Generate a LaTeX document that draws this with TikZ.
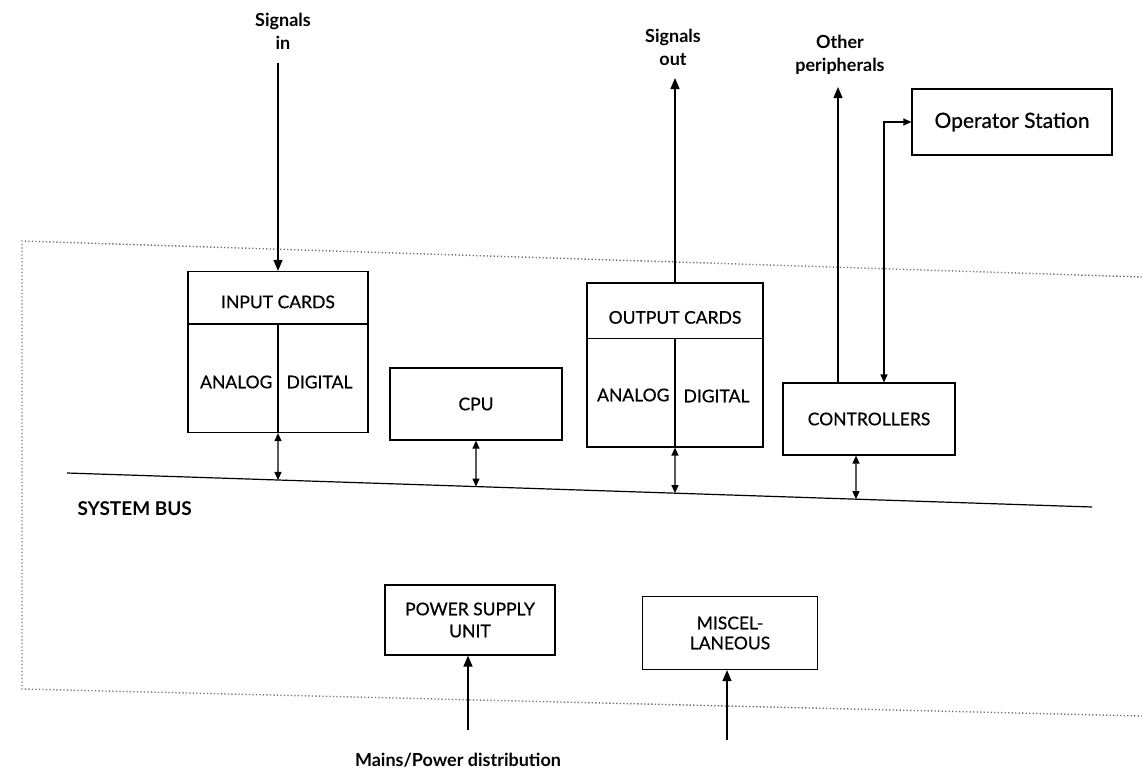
\documentclass[tikz,border=0pt]{standalone}
\usepackage{fontspec}
\setmainfont{Lato}
\newfontfamily\medfont[FakeBold=0.6]{Lato}
\usetikzlibrary{arrows.meta,calc}
\begin{document}
\begin{tikzpicture}[x=1pt,y=-1pt,
  line width=1.2pt,
  txt/.style={inner sep=0pt,font=\medfont\fontsize{17.5}{21}\selectfont},
  box/.style={draw,rectangle,inner sep=0pt,align=center,font=\medfont\fontsize{17.5}{22}\selectfont},
  lab/.style={inner sep=0pt,align=center,font=\bfseries\fontsize{18}{23}\selectfont},
  sig/.style={-{Triangle[length=11pt,width=9pt]}},
  dbl/.style={{Triangle[length=8pt,width=7pt]}-{Triangle[length=8pt,width=7pt]}},
  border/.style={black!55,line width=1.4pt,dash pattern=on 1.3pt off 2.2pt}
]
\useasboundingbox (0,0) rectangle (1142,771);

% dotted enclosure
\draw[border] (1142,277) -- (22,241) -- (22,689) -- (1142,716);

% system bus
\coordinate (bus1) at (67,473);
\coordinate (bus2) at (1092,507);
\draw (bus1) -- (bus2);
\node[inner sep=0pt,anchor=west,font=\bfseries\fontsize{19}{21}\selectfont] (buslab) at (77,509) {SYSTEM BUS};

% input cards
\node[box,minimum width=180pt,minimum height=161pt] (in) at (278,352) {};
\draw ([yshift=-53pt]in.north west) -- ([yshift=-53pt]in.north east);
\draw ([yshift=-53pt]in.north) -- (in.south);
\node[txt] (inT) at ($(in.north)+(0,31)$) {INPUT CARDS};
\node[txt,anchor=east] (inA) at ($(in.center)+(-5,30)$) {ANALOG};
\node[txt,anchor=west] (inD) at ($(in.center)+(8,30)$) {DIGITAL};

% output cards
\node[box,minimum width=176pt,minimum height=164pt] (out) at (675,365) {};
\draw ([yshift=-56pt]out.north west) -- ([yshift=-56pt]out.north east);
\draw ([yshift=-56pt]out.north) -- (out.south);
\node[txt] (outT) at ($(out.north)+(0,35)$) {OUTPUT CARDS};
\node[txt,anchor=east] (outA) at ($(out.center)+(-5,30)$) {ANALOG};
\node[txt,anchor=west] (outD) at ($(out.center)+(8,31)$) {DIGITAL};

% cpu
\node[box,minimum width=172pt,minimum height=72pt] (cpu) at (476,404) {CPU};
% controllers
\node[box,minimum width=172pt,minimum height=72pt] (ctl) at (869,419) {CONTROLLERS};
% operator station
\node[box,minimum width=200pt,minimum height=66pt,font=\medfont\fontsize{21}{23}\selectfont] (op) at (1012,122) {Operator Station};
% power supply
\node[box,minimum width=170pt,minimum height=70pt] (psu) at (470,620) {POWER SUPPLY\\UNIT};
% miscellaneous
\node[box,minimum width=175pt,minimum height=73pt,font=\medfont\fontsize{17.5}{20}\selectfont] (misc) at (730,633) {MISCEL-\\LANEOUS};

% bus connections
\coordinate (bIn) at (intersection of bus1--bus2 and in.south--in.north);
\coordinate (bCpu) at (intersection of bus1--bus2 and cpu.south--cpu.north);
\coordinate (bOut) at (intersection of bus1--bus2 and out.south--out.north);
\coordinate (ctlS) at ($(ctl.south)+(-13,0)$);
\coordinate (ctlN) at ($(ctl.north)+(-13,0)$);
\coordinate (bCtl) at (intersection of bus1--bus2 and ctlS--ctlN);
\draw[dbl] (in.south) -- (bIn);
\draw[dbl] (cpu.south) -- (bCpu);
\draw[dbl] (out.south) -- (bOut);
\draw[dbl] (ctlS) -- (bCtl);

% signals in
\node[lab] (sin) at (283,31) {Signals\\in};
\coordinate (sinS) at (278,63);
\draw[sig] (sinS) -- (in.north);

% signals out
\node[lab] (sout) at (673,47) {Signals\\out};
\coordinate (soutT) at (675,78);
\draw[sig] (out.north) -- (soutT);

% other peripherals
\node[lab] (oth) at (840,55) {Other\\peripherals};
\coordinate (othT) at (838,87);
\draw[sig] (ctl.north -| othT) -- (othT);

% operator station link
\coordinate (opC) at (884,122);
\draw[dbl] (ctl.north -| opC) -- (opC) -- (op.west);

% power inputs
\coordinate (psuIn) at (468,730);
\draw[sig] (psuIn) -- (psu.south -| psuIn);
\coordinate (miscIn) at (727,740);
\draw[sig] (miscIn) -- (misc.south -| miscIn);
\node[lab] (mains) at (458,760) {Mains/Power distribution};
\end{tikzpicture}
\end{document}
